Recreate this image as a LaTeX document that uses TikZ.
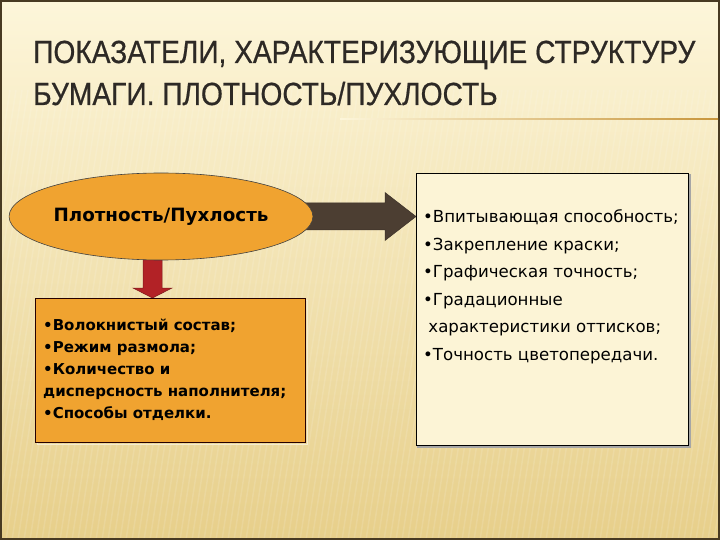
\documentclass[tikz,border=0pt]{standalone}
\usepackage{fontspec}
\usetikzlibrary{calc}
\usetikzlibrary{shapes.geometric}
\setmainfont{DejaVu Sans}
\newfontfamily\titlefont[FakeStretch=0.88,FakeBold=0.6]{Liberation Sans}
\definecolor{bgtop}{RGB}{253,246,218}
\definecolor{bgbot}{RGB}{231,207,138}
\definecolor{orangefill}{RGB}{240,163,48}
\definecolor{darkarrow}{RGB}{76,62,50}
\definecolor{redarrow}{RGB}{178,34,38}
\definecolor{creamfill}{RGB}{252,244,214}
\definecolor{titlegray}{RGB}{45,41,37}
\definecolor{ruleline}{RGB}{200,150,60}
\definecolor{frameline}{RGB}{72,58,34}
\newcommand{\slidex}{720}
\newcommand{\slidey}{540}
\newcommand{\shafthalf}{13.5}
\newcommand{\headhalf}{24}
\newcommand{\headlen}{31}
\newcommand{\dshafthalf}{9.5}
\newcommand{\dheadhalf}{19.5}
\newcommand{\dheadlen}{10}
\pgfdeclarelayer{slide}
\pgfdeclarelayer{arrows}
\pgfsetlayers{slide,arrows,main}
\begin{document}
\begin{tikzpicture}[x=1pt,y=-1pt,
    densstyle/.style={ellipse,draw=black!75,line width=0.6pt,fill=orangefill,
      minimum width=252pt,minimum height=87pt,inner sep=0pt,
      font=\bfseries\fontsize{18.3}{20}\selectfont},
    listbox/.style={rectangle,line width=0.8pt,inner sep=0pt,anchor=north west},
    listtext/.style={anchor=north west,align=left,inner sep=0pt},
    titletext/.style={anchor=base west,inner sep=0pt,text=titlegray,
      font=\titlefont\fontsize{32}{38}\selectfont}]
    \useasboundingbox (0,0) rectangle (\slidex,\slidey);
    \begin{pgfonlayer}{slide}
      % slide background
      \shade[top color=bgtop,bottom color=bgbot] (0,0) rectangle (\slidex,\slidey);
      \foreach \sx in {-60,-54,...,720}
        \draw[white,opacity=0.12,line width=1.5pt] (\sx,\slidey) -- (\sx+70,90);
      \draw[frameline,line width=2pt] (1,1) rectangle (\slidex-1,\slidey-1);
      % rule under title
      \shade[left color=bgtop,right color=ruleline] (340,118.2) rectangle (718,119.8);
    \end{pgfonlayer}
    % title
    \node[titletext] (title1) at (33,63) {ПОКАЗАТЕЛИ, ХАРАКТЕРИЗУЮЩИЕ СТРУКТУРУ};
    \node[titletext] (title2) at (33,105) {БУМАГИ. ПЛОТНОСТЬ/ПУХЛОСТЬ};
    % ellipse
    \node[densstyle] (dens) at (161,216.5) {Плотность/Пухлость};
    % left box
    \draw[white!60!bgbot,line width=1pt] (37,300) rectangle (307,444);
    \node[listbox,draw=black!85!red,fill=orangefill,minimum width=270pt,minimum height=144pt]
      (fibre) at (35,298) {};
    \node[listtext,font=\bfseries\fontsize{15}{22}\selectfont] (fibretext)
      at ($(fibre.north west)+(8,20.5)$)
      {•Волокнистый состав;\\•Режим размола;\\•Количество и\\дисперсность наполнителя;\\•Способы отделки.};
    % right box
    \draw[black!35,line width=1.2pt] (418,175) rectangle (690,447);
    \node[listbox,draw=black,fill=creamfill,minimum width=272pt,minimum height=272pt]
      (props) at (416,173) {};
    \node[listtext,font=\fontsize{16.6}{27.5}\selectfont] (propstext)
      at ($(props.north west)+(7,36.5)$)
      {•Впитывающая способность;\\•Закрепление краски;\\•Графическая точность;\\•Градационные\\\ характеристики оттисков;\\•Точность цветопередачи.};
    % arrows
    \coordinate (rtail) at (dens.center);
    \coordinate (rtip) at (props.west |- dens.center);
    \coordinate (dtop) at (152.5,216.5);
    \coordinate (dtip) at (dtop |- fibre.north);
    \begin{pgfonlayer}{arrows}
      \filldraw[fill=darkarrow,draw=darkarrow!80!black,line width=0.5pt]
        ($(rtail)+(0,-\shafthalf)$) -- ($(rtip)+(-\headlen,-\shafthalf)$)
        -- ($(rtip)+(-\headlen,-\headhalf)$) -- (rtip)
        -- ($(rtip)+(-\headlen,\headhalf)$) -- ($(rtip)+(-\headlen,\shafthalf)$)
        -- ($(rtail)+(0,\shafthalf)$) -- cycle;
      \filldraw[fill=redarrow,draw=redarrow!70!black,line width=0.5pt]
        ($(dtop)+(-\dshafthalf,0)$) -- ($(dtip)+(-\dshafthalf,-\dheadlen)$)
        -- ($(dtip)+(-\dheadhalf,-\dheadlen)$) -- (dtip)
        -- ($(dtip)+(\dheadhalf,-\dheadlen)$) -- ($(dtip)+(\dshafthalf,-\dheadlen)$)
        -- ($(dtop)+(\dshafthalf,0)$) -- cycle;
    \end{pgfonlayer}
  \end{tikzpicture}
\end{document}
